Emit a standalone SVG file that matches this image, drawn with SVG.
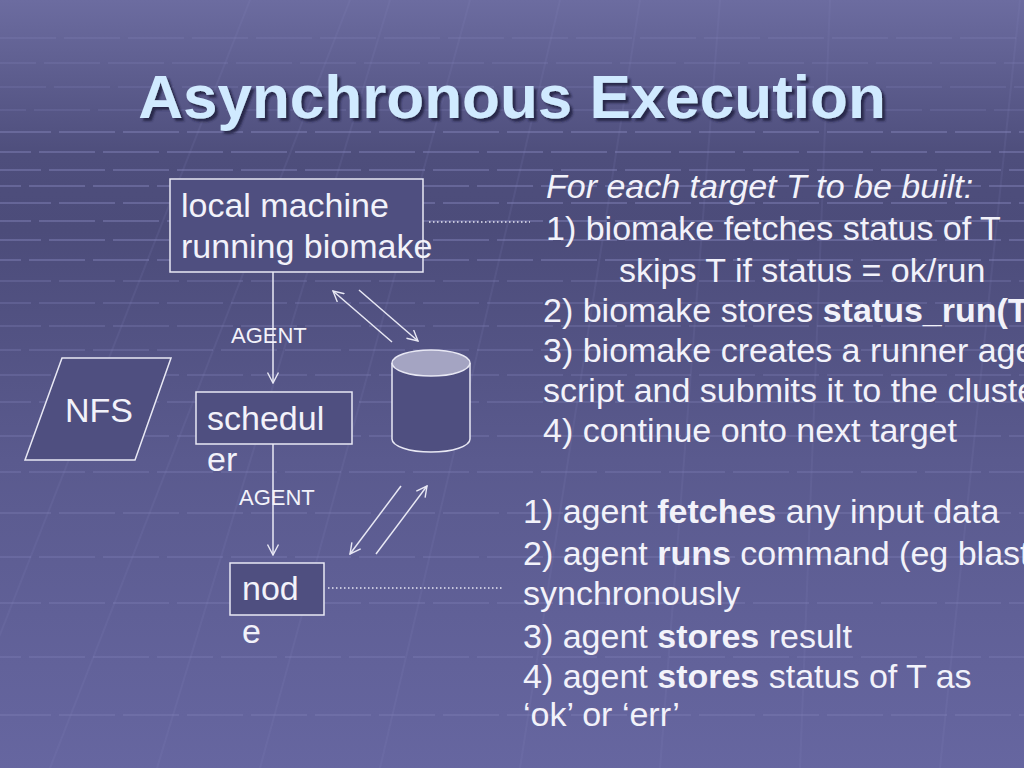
<svg xmlns="http://www.w3.org/2000/svg" width="1024" height="768" viewBox="0 0 1024 768">
<defs>
<linearGradient id="bg" x1="0" y1="0" x2="0" y2="1">
<stop offset="0" stop-color="#6c6ca0"/>
<stop offset="0.2" stop-color="#4e4e7c"/>
<stop offset="0.3" stop-color="#4c4c7a"/>
<stop offset="0.6" stop-color="#5a5a8e"/>
<stop offset="1" stop-color="#6666a0"/>
</linearGradient>
<filter id="shadow" x="-5%" y="-20%" width="110%" height="140%">
<feDropShadow dx="3" dy="3" stdDeviation="0.8" flood-color="#23233f" flood-opacity="0.85"/>
</filter>
<marker id="arr" viewBox="0 0 12 12" refX="11" refY="6" markerWidth="12" markerHeight="12" markerUnits="userSpaceOnUse" orient="auto">
<path d="M0.5,0.5 L11,6 L0.5,11.5" fill="none" stroke="#e8e8f4" stroke-width="1.4"/>
</marker>
</defs>
<style>
.t{font-family:"Liberation Sans",Arial,Helvetica,sans-serif;font-size:34px;fill:#f2f2fa}
.b{font-weight:bold}
.i{font-style:italic}
.s{font-size:22px}
.title{font-family:"Liberation Sans",Arial,Helvetica,sans-serif;font-size:62px;font-weight:bold;fill:#d0eaff}
.conn{stroke:#e8e8f4;stroke-width:1.5;fill:none}
.dot{stroke:#e8e8f4;stroke-width:1.5;fill:none;stroke-dasharray:1.5 2.5}
.shape{fill:#4f4f80;stroke:#e8e8f4;stroke-width:1.5}
.gh{stroke:#8c8cc4;stroke-width:2;fill:none;stroke-dasharray:56 8}
.gs{stroke:#8c8cc4;stroke-width:2;fill:none;opacity:0.12}
</style>
<rect x="0" y="0" width="1024" height="768" fill="url(#bg)"/>
<g id="grid">
<g class="gh" opacity="0.18">
<line x1="0" y1="38" x2="1024" y2="38"/>
<line x1="-20" y1="63" x2="1024" y2="63"/>
<line x1="-10" y1="87" x2="1024" y2="87"/>
<line x1="-30" y1="110" x2="1024" y2="110"/>
</g>
<g class="gh" opacity="0.4">
<line x1="-5" y1="132" x2="1024" y2="132"/>
<line x1="-25" y1="152" x2="1024" y2="152"/>
<line x1="-15" y1="170" x2="1024" y2="170"/>
<line x1="-35" y1="186" x2="1024" y2="186"/>
<line x1="-5" y1="203" x2="1024" y2="203"/>
<line x1="-25" y1="221" x2="1024" y2="221"/>
<line x1="-15" y1="240" x2="1024" y2="240"/>
<line x1="-35" y1="260" x2="1024" y2="260"/>
</g>
<g class="gh" opacity="0.25">
<line x1="-5" y1="281" x2="1024" y2="281"/>
<line x1="-25" y1="303" x2="1024" y2="303"/>
<line x1="-15" y1="326" x2="1024" y2="326"/>
<line x1="-35" y1="350" x2="1024" y2="350"/>
<line x1="-5" y1="375" x2="1024" y2="375"/>
<line x1="-25" y1="402" x2="1024" y2="402"/>
<line x1="-15" y1="436" x2="1024" y2="436"/>
<line x1="-35" y1="472" x2="1024" y2="472"/>
<line x1="-5" y1="513" x2="1024" y2="513"/>
<line x1="-25" y1="557" x2="1024" y2="557"/>
<line x1="-15" y1="603" x2="1024" y2="603"/>
<line x1="-35" y1="657" x2="1024" y2="657"/>
<line x1="-5" y1="715" x2="1024" y2="715"/>
</g>
<g class="gs">
<line x1="-10" y1="660" x2="250" y2="0"/>
<line x1="50" y1="768" x2="350" y2="0"/>
<line x1="157" y1="768" x2="390" y2="0"/>
<line x1="260" y1="768" x2="470" y2="0"/>
<line x1="380" y1="768" x2="560" y2="0"/>
<line x1="520" y1="768" x2="640" y2="0"/>
<line x1="660" y1="768" x2="720" y2="0"/>
<line x1="800" y1="768" x2="830" y2="0"/>
<line x1="940" y1="768" x2="1020" y2="0"/>
</g>
</g>
<g id="title">
<text class="title" x="512" y="118" text-anchor="middle" filter="url(#shadow)">Asynchronous Execution</text>
</g>
<g id="connectors">
<line class="conn" x1="273" y1="272" x2="273" y2="383" marker-end="url(#arr)"/>
<line class="conn" x1="273" y1="444" x2="273" y2="555" marker-end="url(#arr)"/>
<line class="conn" x1="392" y1="342" x2="333" y2="291" marker-end="url(#arr)"/>
<line class="conn" x1="359" y1="290" x2="418" y2="341" marker-end="url(#arr)"/>
<line class="conn" x1="401" y1="486" x2="350" y2="554" marker-end="url(#arr)"/>
<line class="conn" x1="376" y1="554" x2="427" y2="486" marker-end="url(#arr)"/>
<line class="dot" x1="429" y1="222" x2="530" y2="222"/>
<line class="dot" x1="328" y1="588" x2="502" y2="588"/>
<text class="t s" x="231" y="343">AGENT</text>
<text class="t s" x="239" y="505">AGENT</text>
</g>
<g id="local-machine">
<rect class="shape" x="170" y="179" width="253" height="93"/>
<text class="t" x="181" y="217">local machine</text>
<text class="t" x="181" y="258">running biomake</text>
</g>
<g id="nfs">
<polygon class="shape" points="62,358 171,358 135,460 25,460"/>
<text class="t" x="65" y="422">NFS</text>
</g>
<g id="scheduler">
<rect class="shape" x="196" y="392" width="156" height="52"/>
<text class="t" x="207" y="430">schedul</text>
<text class="t" x="207" y="471">er</text>
</g>
<g id="node">
<rect class="shape" x="230" y="563" width="94" height="52"/>
<text class="t" x="242" y="600">nod</text>
<text class="t" x="242" y="643">e</text>
</g>
<g id="database">
<path class="shape" fill="#535386" d="M392,363 L392,439 A39,13 0 0 0 470,439 L470,363"/>
<ellipse cx="431" cy="363" rx="39" ry="13" fill="#a4a4c2" stroke="#e8e8f4" stroke-width="1.5"/>
</g>
<g id="build-steps">
<text class="t i" x="546" y="198">For each target T to be built:</text>
<text class="t" x="546" y="240">1) biomake fetches status of T</text>
<text class="t" x="619" y="282">skips T if status = ok/run</text>
<text class="t" x="543" y="322">2) biomake stores <tspan class="b">status_run(T)</tspan></text>
<text class="t" x="543" y="362">3) biomake creates a runner agent</text>
<text class="t" x="543" y="402">script and submits it to the cluster</text>
<text class="t" x="543" y="442">4) continue onto next target</text>
</g>
<g id="agent-steps">
<text class="t" x="523" y="523">1) agent <tspan class="b">fetches</tspan> any input data</text>
<text class="t" x="523" y="565">2) agent <tspan class="b">runs</tspan> command (eg blast)</text>
<text class="t" x="523" y="605">synchronously</text>
<text class="t" x="523" y="648">3) agent <tspan class="b">stores</tspan> result</text>
<text class="t" x="523" y="688">4) agent <tspan class="b">stores</tspan> status of T as</text>
<text class="t" x="523" y="726">‘ok’ or ‘err’</text>
</g>
</svg>
